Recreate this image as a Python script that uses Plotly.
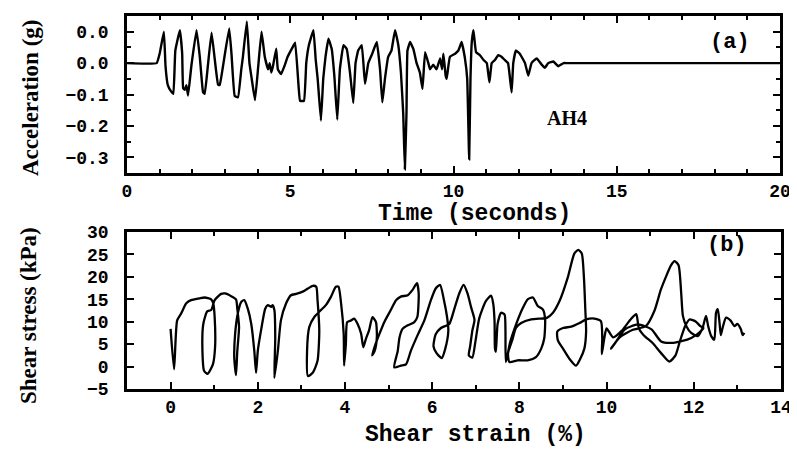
import plotly.graph_objects as go

# ---------------- data ----------------
time_s = [0, 0.91, 1.0, 1.13, 1.18, 1.25, 1.35, 1.42, 1.48, 1.62, 1.69, 1.72, 1.77, 1.82, 1.87,
          1.97, 2.13, 2.23, 2.33, 2.38, 2.48, 2.59, 2.69, 2.79, 2.84, 2.94, 3.13, 3.2, 3.3, 3.4,
          3.5, 3.55, 3.67, 3.75, 3.82, 3.92, 4.02, 4.12, 4.22, 4.32, 4.37, 4.42, 4.47, 4.57, 4.62,
          4.72, 4.82, 4.92, 5.07, 5.15, 5.25, 5.30, 5.42, 5.49, 5.57, 5.71, 5.78, 5.84, 5.94, 6.01,
          6.08, 6.17, 6.27, 6.35, 6.44, 6.52, 6.63, 6.73, 6.83, 6.93, 7.0, 7.08, 7.19, 7.29, 7.39,
          7.51, 7.65, 7.75, 7.82, 7.9, 8.0, 8.1, 8.21, 8.31, 8.39, 8.46, 8.51, 8.56, 8.59, 8.67,
          8.77, 8.87, 8.97, 9.05, 9.13, 9.23, 9.28, 9.38, 9.48, 9.59, 9.65, 9.69, 9.76, 9.79, 9.89,
          10.05, 10.15, 10.25, 10.35, 10.42, 10.48, 10.52, 10.56, 10.61, 10.69, 10.81, 10.92, 11.02,
          11.10, 11.17, 11.27, 11.37, 11.47, 11.57, 11.67, 11.78, 11.83, 11.91, 12.03, 12.19, 12.29,
          12.39, 12.55, 12.70, 12.80, 12.90, 13.06, 13.21, 13.37, 13.47, 20]
accel_g = [0, 0, 0.03, 0.10, -0.01, -0.07, -0.09, -0.098, 0.04, 0.105, 0.03, -0.08, -0.085, -0.07, -0.103,
           -0.01, 0.105, 0.02, -0.093, -0.098, -0.005, 0.097, 0.01, -0.069, -0.07, -0.01, 0.11, 0.03, -0.105, -0.109,
           -0.02, 0.02, 0.133, 0.0, -0.05, -0.118, -0.01, 0.10, 0.02, -0.02, 0.0, -0.03, -0.01, 0.046, -0.02,
           -0.035, -0.01, 0.02, 0.05, 0.065, -0.066, -0.12, -0.12, 0.0, 0.057, 0.105, 0.01, -0.05, -0.183, -0.05,
           0.02, 0.078, 0.045, -0.04, -0.18, -0.02, 0.057, 0.045, -0.03, -0.127, 0.0, 0.04, 0.057, -0.066, 0.0,
           0.03, 0.067, -0.02, -0.125, -0.05, 0.02, 0.04, 0.105, 0.057, -0.03, -0.16, -0.338, -0.16, 0.04, 0.067,
           0.045, 0.0, -0.03, -0.082, 0.035, 0.0, -0.02, -0.005, -0.02, 0.015, -0.02, 0.03, -0.04, -0.05, 0.02,
           0.03, 0.04, 0.067, 0.015, -0.05, -0.306, -0.05, 0.067, 0.105, 0.035, 0.025, 0.01, 0.0,
           -0.061, 0.0, 0.01, 0.025, 0.02, 0.01, 0.0, -0.093, 0.0, 0.04, 0.03, 0.0, -0.04,
           0.0, 0.015, -0.005, -0.015, 0.0, 0.005, -0.01, 0.0, 0.0, 0]

strain_pct = [0.0, 0.08, 0.15, 0.24, 0.36, 0.47, 0.66, 0.78, 0.93, 0.98, 1.01, 1.02, 0.97, 0.85, 0.77,
              0.73, 0.75, 0.84, 0.93, 1.01, 1.16, 1.25, 1.39, 1.5, 1.53, 1.57, 1.53, 1.5, 1.46, 1.48,
              1.54, 1.62, 1.69, 1.77, 1.85, 1.92, 1.96, 2.0, 2.08, 2.17, 2.23, 2.31, 2.34, 2.38, 2.40,
              2.38, 2.46, 2.53, 2.65, 2.76, 2.88, 3.03, 3.15, 3.26, 3.34, 3.37, 3.41, 3.37, 3.26, 3.15,
              3.13, 3.18, 3.30, 3.45, 3.56, 3.68, 3.79, 3.85, 3.91, 3.97, 3.98, 4.02, 4.05, 4.14, 4.21,
              4.29, 4.37, 4.42, 4.48, 4.55, 4.63, 4.71, 4.73, 4.68, 4.62, 4.70, 4.79, 4.90, 5.05, 5.17,
              5.28, 5.44, 5.55, 5.65, 5.69, 5.66, 5.59, 5.44, 5.32, 5.25, 5.21, 5.13, 5.28, 5.40, 5.51,
              5.66, 5.82, 5.97, 6.08, 6.18, 6.27, 6.34, 6.37, 6.30, 6.22, 6.10, 6.03, 6.08, 6.20, 6.39,
              6.50, 6.62, 6.72, 6.81, 6.89, 6.97, 6.92, 6.87, 6.84, 6.92, 6.99, 7.08, 7.23, 7.35, 7.40,
              7.43, 7.44, 7.46, 7.50, 7.58, 7.66, 7.68, 7.69, 7.79, 7.92, 8.08, 8.19, 8.31, 8.42, 8.54,
              8.59, 8.57, 8.50, 8.38, 8.19, 7.96, 7.77, 7.74, 7.84, 7.92, 8.04, 8.27, 8.50, 8.62, 8.77,
              8.92, 9.11, 9.26, 9.35, 9.43, 9.48, 9.51, 9.53, 9.49, 9.38, 9.30, 9.15, 9.00, 8.88, 8.87,
              9.00, 9.19, 9.38, 9.53, 9.72, 9.87, 9.90, 9.89, 9.95, 10.00,
              10.15, 10.35, 10.55, 10.68, 10.74, 10.85, 11.05, 11.25, 11.44, 11.58, 11.68, 11.80, 11.90,
              12.05, 12.15, 12.22,
              12.05, 11.85, 11.50, 11.25, 11.03, 10.72, 10.42, 10.20, 10.10,
              10.30, 10.60, 10.90, 11.10, 11.25, 11.48, 11.56, 11.65, 11.71, 11.75, 11.83, 11.94, 12.09,
              12.20, 12.28, 12.33, 12.40, 12.47, 12.51, 12.55, 12.59, 12.62, 12.66, 12.74, 12.85, 12.93,
              13.00, 13.08, 13.12, 13.16]
stress_kpa = [8.4, -0.6, 10.3, 11.8, 14.1, 14.8, 15.2, 15.4, 15.0, 14.0, 11.1, 4.3, 0.5, -1.6, -1.0,
              3.5, 9.5, 12.3, 12.6, 14.8, 16.2, 16.3, 15.7, 15.0, 12.9, 8.8, 3.5, -1.9, 2.0, 7.3,
              11.8, 14.4, 14.8, 12.9, 9.5, 3.5, -1.4, 3.5, 8.4, 12.9, 13.7, 13.3, 13.7, 12.6, 6.5,
              -2.5, 3.5, 10.3, 14.1, 15.9, 16.2, 16.7, 17.4, 18.0, 17.8, 14.8, 8.0, 1.3, -1.4, -2.1,
              3.5, 8.8, 11.1, 12.6, 13.7, 15.6, 17.8, 17.8, 14.1, 7.3, 0.2, 5.0, 9.9, 10.3, 10.7,
              9.5, 7.3, 4.3, 6.2, 8.0, 11.0, 9.9, 6.5, 3.5, 2.5, 5.0, 7.3, 9.9, 12.6, 14.8,
              15.6, 15.9, 17.1, 18.6, 16.3, 11.1, 9.9, 9.2, 8.4, 6.5, 3.5, -0.2, 0.2, 0.5, 3.5,
              6.9, 10.3, 14.8, 17.4, 18.2, 14.8, 11.1, 8.0, 4.0, 1.9, 3.0, 4.5, 7.2, 8.6, 9.5,
              12.6, 16.3, 18.2, 16.3, 13.3, 10.4, 8.0, 4.5, 2.5, 2.0, 5.5, 10.8, 14.6, 15.8, 14.0,
              10.1, 4.0, 3.3, 9.5, 12.0, 11.6, 8.0, 1.0, 5.5, 9.3, 13.1, 15.0, 15.4, 13.5, 12.7,
              10.5, 6.3, 4.0, 2.1, 1.4, 1.4, 1.0, 3.0, 6.0, 8.6, 9.7, 10.5, 10.7, 10.8, 12.0,
              14.6, 19.9, 25.2, 26.0, 25.2, 19.9, 13.1, 7.8, 4.0, 1.4, 0.2, 1.7, 4.0, 5.9, 7.8,
              8.6, 8.9, 9.7, 10.5, 10.7, 10.1, 6.3, 2.8, 6.5, 8.5,
              6.5, 8.0, 10.5, 11.7, 8.5, 7.0, 5.3, 3.0, 1.1, 2.5, 5.6, 9.0, 10.5,
              10.0, 9.0, 8.6,
              7.0, 6.0, 5.3, 5.6, 8.3, 9.4, 8.3, 5.3, 4.0,
              6.5, 8.2, 9.0, 12.5, 17.3, 22.6, 23.5, 22.6, 16.5, 11.3, 9.0, 7.5, 6.8,
              8.6, 11.3, 9.0, 6.8, 6.0, 12.0, 12.8, 9.8, 7.0, 8.6, 10.9, 10.2, 9.0,
              9.5, 8.3, 7.0, 7.5]

acc_tickvals = [0.1, 0.0, -0.1, -0.2, -0.3]
acc_ticktext = ["0.0", "0.0", "\u22120.1", "\u22120.2", "\u22120.3"]
time_tickvals = [0, 5, 10, 15, 20]
strain_tickvals = [0, 2, 4, 6, 8, 10, 12, 14]
stress_tickvals = [-5, 0, 5, 10, 15, 20, 25, 30]

# ---------------- figure ----------------
# The page body has an 8px margin, so the figure is 8px smaller than the window
# and every position below is given in window pixels minus that offset.
OFF = 8
W, H = 797 - OFF, 449 - OFF


def fx(px):
    return (px - OFF) / W


def fy(py):
    return 1 - (py - OFF) / H


MONO = "Liberation Mono, Courier New, monospace"
SERIF = "Liberation Serif, Times New Roman, serif"

tick_font = dict(family=MONO, size=18, color="black", weight="bold")
xtitle_font = dict(family=MONO, size=23, color="black", weight="bold")
ytitle_font = dict(family=SERIF, size=23, color="black", weight="bold")

fig = go.Figure()
fig.add_trace(go.Scatter(x=time_s, y=accel_g, mode="lines",
                         line=dict(color="black", width=2.4, shape="spline", smoothing=0.3),
                         xaxis="x", yaxis="y", showlegend=False))
fig.add_trace(go.Scatter(x=strain_pct, y=stress_kpa, mode="lines",
                         line=dict(color="black", width=2.3, shape="spline", smoothing=0.6),
                         xaxis="x2", yaxis="y2", showlegend=False))

common = dict(showline=True, linecolor="black", linewidth=2.5, mirror="ticks",
              ticks="inside", ticklen=7, tickwidth=2, tickcolor="black",
              showgrid=False, zeroline=False, tickfont=tick_font, automargin=False)
minor_style = dict(ticks="inside", ticklen=4, tickwidth=1.5, tickcolor="black", showgrid=False)

fig.update_layout(
    width=W, height=H,
    margin=dict(l=0, r=0, t=0, b=0, autoexpand=False),
    paper_bgcolor="white", plot_bgcolor="white",
    showlegend=False,
    xaxis=dict(domain=[fx(127), fx(780)], anchor="y", range=[0, 20],
               tickvals=time_tickvals, ticklabelstandoff=0,
               minor=dict(dtick=1, **minor_style), **common),
    yaxis=dict(domain=[fy(173), fy(16)], anchor="x", range=[-0.35, 0.15],
               tickvals=acc_tickvals, ticktext=acc_ticktext, ticklabelstandoff=12,
               minor=dict(dtick=0.05, **minor_style), **common),
    xaxis2=dict(domain=[fx(127), fx(781)], anchor="y2", range=[-1, 14],
                tickvals=strain_tickvals, ticklabelstandoff=0,
                minor=dict(dtick=1, **minor_style), **common),
    yaxis2=dict(domain=[fy(389), fy(232)], anchor="x2", range=[-5, 30],
                tickvals=stress_tickvals, ticklabelstandoff=12, **common),
    annotations=[
        # axis titles
        dict(text="Time (seconds)", x=fx(474), y=fy(214), xref="paper", yref="paper",
             xanchor="center", yanchor="middle", showarrow=False, font=xtitle_font),
        dict(text="Shear strain (%)", x=fx(475), y=fy(435), xref="paper", yref="paper",
             xanchor="center", yanchor="middle", showarrow=False, font=xtitle_font),
        dict(text="Acceleration (g)", x=fx(30), y=fy(98), xref="paper", yref="paper",
             xanchor="center", yanchor="middle", textangle=-90, showarrow=False, font=ytitle_font),
        dict(text="Shear stress (kPa)", x=fx(28), y=fy(316), xref="paper", yref="paper",
             xanchor="center", yanchor="middle", textangle=-90, showarrow=False, font=ytitle_font),
        # panel labels
        dict(text="(a)", x=18.47, y=0.064, xref="x", yref="y", showarrow=False,
             font=dict(family=MONO, size=22, color="black", weight="bold")),
        dict(text="AH4", x=13.48, y=-0.176, xref="x", yref="y", showarrow=False,
             font=dict(family=SERIF, size=20, color="black", weight="bold")),
        dict(text="(b)", x=12.77, y=27.1, xref="x2", yref="y2", showarrow=False,
             font=dict(family=MONO, size=22, color="black", weight="bold")),
    ],
)

fig.write_html("out.html")
